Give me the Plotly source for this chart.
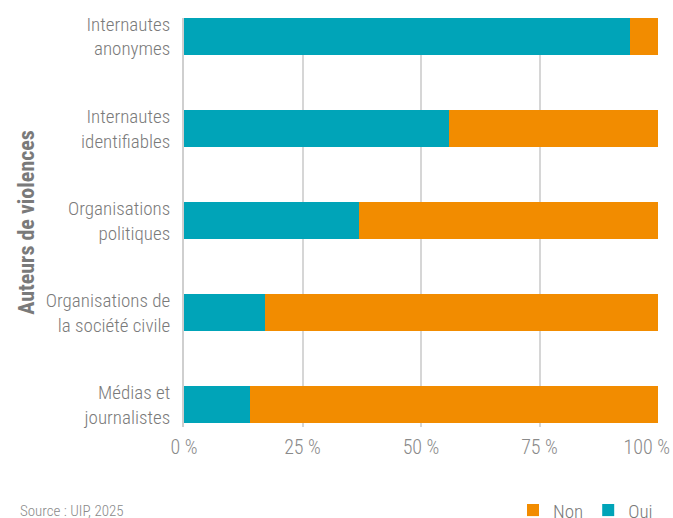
import plotly.graph_objects as go

# categories bottom -> top
categories = ["Médias et<br>journalistes", "Organisations de<br>la société civile",
              "Organisations<br>politiques", "Internautes<br>identifiables",
              "Internautes<br>anonymes"]
oui = [14, 17, 37, 56, 94]
non = [86, 83, 63, 44, 6]
tick_vals = [0, 25, 50, 75, 100]
tick_text = ["0 %", "25 %", "50 %", "75 %", "100 %\u00a0\u00a0\u00a0\u00a0\u00a0"]

FONT = "Roboto Condensed, Liberation Sans Narrow, Roboto, sans-serif"
GREY = "#7a7a7a"

fig = go.Figure()
fig.add_trace(go.Bar(y=categories, x=oui, name="Oui", orientation="h",
                     marker=dict(color="#00A4B8", line=dict(width=0))))
fig.add_trace(go.Bar(y=categories, x=non, name="Non", orientation="h",
                     marker=dict(color="#F28C00", line=dict(width=0))))

fig.update_layout(
    barmode="stack", bargap=0.6,
    width=673, height=518,
    margin=dict(l=184, r=15, t=18, b=91, autoexpand=False),
    plot_bgcolor="white", paper_bgcolor="white",
    font=dict(family=FONT, color=GREY, size=19, weight=300),
    showlegend=True,
    legend=dict(orientation="h", traceorder="reversed", x=1.0, xanchor="right",
                y=-0.25, yanchor="bottom", font=dict(size=19, color=GREY, weight=300),
                itemwidth=30, itemsizing="constant"),
    xaxis=dict(range=[0, 100], tickvals=tick_vals, ticktext=tick_text,
               showgrid=True, gridcolor="#d6d6d6", gridwidth=2,
               zeroline=False, showline=False, ticks="",
               ticklabeloverflow="allow", ticklabelstandoff=6,
               tickfont=dict(size=20, color="#8a8a8a", weight=300), automargin=False),
    yaxis=dict(type="category", range=[-0.24, 4.2], showgrid=False,
               showline=True, linecolor="#cfcfcf", linewidth=2, ticks="",
               ticklabelstandoff=8, tickfont=dict(size=19, color=GREY, weight=300),
               automargin=False,
               title=dict(text="<b>Auteurs de violences</b>", standoff=5,
                          font=dict(size=22, color=GREY))),
    annotations=[dict(text="Source : UIP, 2025", x=-166/474, xref="paper", xanchor="left",
                      y=-84/409, yref="paper", yanchor="middle", showarrow=False,
                      font=dict(size=15, color="#8a8a8a", weight=300))],
)
fig.write_html("out.html", config={"displayModeBar": False},
               post_script="document.body.style.margin='0px';")
